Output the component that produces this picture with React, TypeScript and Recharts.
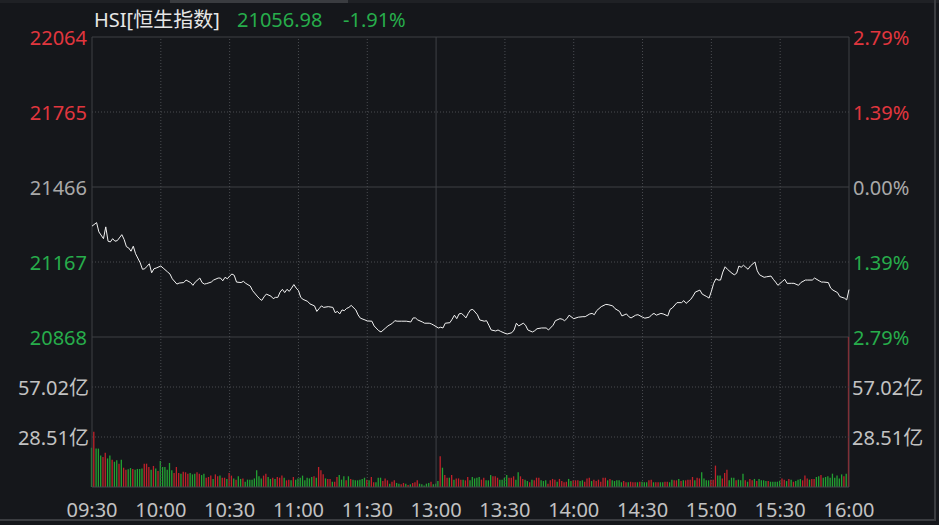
import React from "react";
import { LineChart, Line, BarChart, Bar, Cell, XAxis, YAxis, ReferenceLine } from "recharts";

// ── Data ────────────────────────────────────────────────────────────────

const PREV_CLOSE = 21466;
const LAST_PRICE = 21056.98;
const LAST_CHANGE = "-1.91%";

const priceTicks = [22064, 21765, 21466, 21167, 20868];
const volTicks = [28.51, 57.02];
const timeTicks = [0, 30, 60, 90, 120, 150, 180, 210, 240, 270, 300, 330];
const timeLabels = ["09:30", "10:00", "10:30", "11:00", "11:30", "13:00", "13:30", "14:00", "14:30", "15:00", "15:30", "16:00"];

// minutes since 09:30 (lunch break removed, 150 = 13:00)
const priceMin = [
  0, 2, 3, 5, 6, 7, 8, 9, 10, 11, 13, 14, 15, 16, 17, 18, 19, 21, 22, 23,
  24, 25, 26, 27, 28, 30, 31, 33, 34, 35, 37, 38, 40, 41, 43, 44, 45, 47, 48, 49,
  50, 52, 53, 55, 56, 57, 58, 59, 60, 61, 62, 63, 65, 66, 67, 69, 70, 72, 73, 74,
  75, 76, 78, 79, 80, 81, 82, 83, 84, 85, 86, 87, 88, 89, 90, 91, 92, 94, 95, 97,
  98, 99, 100, 101, 103, 105, 106, 107, 108, 109, 110, 111, 112, 113, 115, 116, 117, 119, 120, 122,
  123, 125, 126, 128, 129, 131, 132, 133, 135, 137, 139, 140, 141, 142, 144, 145, 147, 148, 149, 151,
  152, 153, 154, 156, 157, 158, 159, 160, 161, 162, 163, 164, 165, 166, 168, 169, 171, 172, 173, 174,
  176, 177, 178, 180, 181, 183, 184, 185, 186, 188, 189, 190, 192, 193, 194, 196, 198, 199, 201, 202,
  204, 205, 206, 207, 208, 210, 211, 212, 214, 215, 217, 218, 219, 220, 222, 224, 225, 227, 228, 230,
  231, 233, 234, 235, 237, 238, 240, 241, 243, 244, 245, 246, 248, 249, 251, 252, 253, 255, 257, 258,
  259, 261, 262, 263, 265, 266, 268, 269, 270, 271, 272, 273, 274, 275, 276, 277, 279, 280, 281, 282,
  283, 284, 285, 286, 287, 289, 290, 291, 293, 294, 296, 297, 298, 299, 301, 302, 303, 305, 306, 308,
  309, 311, 312, 314, 315, 317, 318, 319, 321, 322, 323, 325, 326, 328, 329, 330,
];
const priceVal = [
  21310, 21324, 21287, 21260, 21307, 21250, 21247, 21260, 21250, 21252, 21276, 21257, 21228, 21223, 21210, 21230, 21200, 21164, 21138, 21140,
  21150, 21160, 21124, 21140, 21143, 21151, 21143, 21127, 21119, 21100, 21079, 21083, 21085, 21095, 21085, 21074, 21087, 21103, 21085, 21079,
  21081, 21087, 21095, 21103, 21103, 21092, 21106, 21100, 21111, 21119, 21114, 21087, 21085, 21090, 21082, 21071, 21053, 21031, 21021, 21014,
  21028, 21039, 21031, 21021, 21026, 21026, 21047, 21058, 21045, 21058, 21050, 21063, 21077, 21063, 21053, 21026, 21018, 21010, 21000, 20992,
  20970, 20981, 20992, 20986, 20989, 20986, 20965, 20970, 20960, 20976, 20973, 20982, 20986, 20994, 20976, 20956, 20943, 20936, 20932, 20931,
  20912, 20893, 20888, 20904, 20912, 20923, 20933, 20931, 20931, 20931, 20928, 20944, 20944, 20936, 20928, 20923, 20923, 20920, 20915, 20904,
  20907, 20904, 20923, 20925, 20939, 20955, 20941, 20960, 20962, 20955, 20944, 20962, 20976, 20978, 20957, 20936, 20931, 20933, 20915, 20896,
  20892, 20896, 20891, 20883, 20880, 20885, 20896, 20923, 20912, 20923, 20915, 20896, 20888, 20893, 20901, 20904, 20904, 20896, 20915, 20933,
  20941, 20939, 20933, 20941, 20955, 20941, 20944, 20947, 20949, 20949, 20960, 20962, 20957, 20973, 20989, 20998, 20997, 20992, 20981, 20970,
  20952, 20960, 20949, 20944, 20955, 20957, 20947, 20943, 20947, 20957, 20962, 20955, 20962, 20960, 20952, 20978, 20984, 21005, 21005, 21013,
  21002, 21018, 21031, 21047, 21055, 21039, 21029, 21023, 21050, 21082, 21100, 21095, 21095, 21127, 21148, 21138, 21122, 21116, 21122, 21151,
  21146, 21154, 21146, 21138, 21151, 21167, 21132, 21116, 21106, 21108, 21111, 21098, 21087, 21074, 21090, 21098, 21082, 21082, 21082, 21074,
  21085, 21095, 21095, 21095, 21103, 21092, 21087, 21087, 21085, 21063, 21055, 21045, 21029, 21023, 21016, LAST_PRICE,
];

// turnover per minute, 亿 (morning 09:30-11:59, afternoon 13:00-16:00)
const volAM = [
  22.4, 31.5, 21.9, 21.9, 17.9, 17.1, 19.6, 16.3, 17.9, 15.6,
  14.4, 15.2, 13.3, 15.6, 11, 9.9, 10.1, 10.8, 10.3, 9.9,
  10.3, 10.3, 10.5, 13.3, 13.3, 11.4, 9.9, 12, 10.6, 9.1,
  14.8, 11.4, 11.4, 9.9, 13.7, 9.5, 8, 11.4, 8, 7.6,
  8.7, 8.4, 7.6, 8, 7.2, 7.6, 8.4, 7.6, 6.8, 7.6,
  5.3, 5.7, 6.5, 4.6, 7.2, 6.1, 6.5, 5.3, 5.3, 4.6,
  8, 6.5, 4.9, 4.2, 6.1, 4.6, 4.9, 3, 4.2, 4.2,
  4.2, 4.9, 9.5, 6.1, 4.9, 6.5, 7.6, 5.7, 4.6, 5.3,
  4.6, 5.7, 5.3, 6.5, 5.3, 3.8, 4.2, 3.8, 5.7, 4.2,
  4.9, 5.3, 6.5, 3.8, 5.3, 4.9, 5.7, 6.1, 5.3, 11.4,
  9.5, 7.2, 4.9, 4.6, 4.6, 3, 3, 5.7, 6.8, 4.2,
  6.1, 3.8, 6.1, 4.6, 4.2, 3.8, 3.8, 4.2, 4.6, 5.3,
  4.2, 3.8, 5.7, 2.7, 2.7, 5.3, 5.3, 3.4, 4.9, 3.8,
  1.9, 3, 3.8, 2.3, 1.9, 1.5, 2.3, 1.9, 1.1, 1.5,
  2.3, 2.7, 3.8, 1.9, 1.5, 0.8, 1.9, 2.3, 3, 1.5,
];
// r = up minute (red), g = down minute (green)
const dirAM =
  "grgggrrggr ggrgrrggrg gggrrrgrgr ggggggrrrg rrrgggrrgg rrrgrrgrrg rrgrggrggg gggggrrggr grrrgrrgrg gggggggrgr " +
  "rrgrrgrrgg grgrggggggr grrgggrrrg rrggrrgrgr rrgggggrg";

const volPM = [
  1.9, 3.4, 17.5, 11, 6.8, 5.3, 5.3, 6.8, 4.2, 4.9,
  4.9, 4.2, 4.2, 3.8, 5.7, 3.8, 5.7, 4.9, 5.3, 5.7,
  4.2, 5.3, 3.8, 3.8, 6.8, 6.1, 6.1, 5.3, 4.2, 4.2,
  5.3, 6.8, 5.3, 5.3, 6.1, 4.2, 8.4, 6.1, 4.6, 4.2,
  3.4, 2.7, 4.2, 3.8, 5.3, 5.3, 3.8, 3.4, 3.8, 1.9,
  3.8, 4.6, 4.2, 3, 4.6, 3.4, 2.7, 3, 4.6, 3.4,
  3.8, 3.8, 3.8, 3.4, 3.8, 3, 4.9, 5.3, 3.4,
  4.2, 3.4, 4.2, 3, 5.3, 5.3, 3.8, 4.6, 3.8, 3.4,
  3.8, 3.8, 2.7, 3.4, 2.7, 2.7, 3, 2.7, 2.7, 2.7,
  3, 3, 2.7, 2.7, 3.8, 4.2, 2.7, 2.7, 2.7, 2.7,
  2.7, 3, 3, 2.7, 4.2, 3.8, 3.8, 4.6, 3.4, 3.8,
  3.8, 4.2, 4.2, 5.7, 3.8, 5.3, 4.9, 8.4, 4.9, 3.8,
  3.8, 4.2, 4.2,
  12.2, 6.5, 6.5, 4.9, 8, 9.9, 3.8, 5.3, 5.3, 3.8,
  4.2, 3.8, 7.6, 3.8, 3, 4.6, 3.8, 4.6, 3.4, 4.6,
  3.8, 3.8, 3.4, 3.4, 3, 3, 3, 3, 3.4, 4.9,
  4.2, 3.4, 4.6, 4.2, 3, 3.4, 4.2, 4.6, 3.8, 6.5,
  4.9, 4.2, 4.6, 4.6, 5.7, 6.1, 6.8, 5.3, 5.7, 6.1,
  5.3, 7.6, 5.3, 6.5, 4.9, 7.2, 6.1, 7.6, 120,
];
const dirPM =
  "gg rgrrgrgrrr grrgggggrr gggrrrgggg rrrggrrggr grrrgggrrr rgrrrrggrr rggrrrg " +
  "rrrrrrgrgg gggrrgrrrg rgggrrgrrg grrggrrgrg rrrrgrrggg grr " +
  "rggrrrgggr gggrgrrgrg gggrgggggr rgrgrgggrr rgrrggrggg ggggggrgr";

// ── Styling ─────────────────────────────────────────────────────────────

const FONT = "'Noto Sans', 'Noto Sans CJK SC', sans-serif";
const BG = "#15171b";
const TXT_RED = "#e1363e";
const TXT_GREEN = "#27ad4b";
const TXT_GRAY = "#a9a9a9";
const TXT_LABEL = "#c2c2c2";
const BAR_RED = "#c0212a";
const BAR_GREEN = "#23a133";
const GRID_SOLID = "#3e4045";
const GRID_DOT = "#4a4c51";

const priceData = priceMin.map((m, i) => ({ m, p: priceVal[i] }));

const amDirs = dirAM.replace(/ /g, "");
const pmDirs = dirPM.replace(/ /g, "");
const volData = [
  ...volAM.map((v, i) => ({ m: i, v, up: amDirs[i] === "r" })),
  ...volPM.map((v, i) => ({ m: 150 + i, v, up: pmDirs[i] === "r" })),
];

const priceColor = (v: number) => (v > PREV_CLOSE ? TXT_RED : v < PREV_CLOSE ? TXT_GREEN : TXT_GRAY);
const pctText = (v: number) => `${Math.abs(((v - PREV_CLOSE) / PREV_CLOSE) * 100).toFixed(2)}%`;

function LeftPriceTick({ y, payload }: any) {
  return (
    <text x={87} y={y} textAnchor="end" dominantBaseline="central" fontSize={20} fontFamily={FONT} fill={priceColor(payload.value)}>
      {payload.value}
    </text>
  );
}

function RightPriceTick({ y, payload }: any) {
  return (
    <text x={853} y={y} textAnchor="start" dominantBaseline="central" fontSize={20} fontFamily={FONT} fill={priceColor(payload.value)}>
      {pctText(payload.value)}
    </text>
  );
}

function LeftVolTick({ y, payload }: any) {
  return (
    <text x={89} y={y} textAnchor="end" dominantBaseline="central" fontSize={20} fontFamily={FONT} fill={TXT_LABEL}>
      {payload.value.toFixed(2)}亿
    </text>
  );
}

function RightVolTick({ y, payload }: any) {
  return (
    <text x={852} y={y} textAnchor="start" dominantBaseline="central" fontSize={20} fontFamily={FONT} fill={TXT_LABEL}>
      {payload.value.toFixed(2)}亿
    </text>
  );
}

function TimeTick({ x, payload }: any) {
  const idx = timeTicks.indexOf(payload.value);
  return (
    <text x={x} y={172} textAnchor="middle" dominantBaseline="central" fontSize={20} fontFamily={FONT} fill={TXT_LABEL}>
      {timeLabels[idx]}
    </text>
  );
}

const isSolidX = (m: number) => m === 0 || m === 150 || m === 330;

export default function App() {
  return (
    <div style={{ position: "fixed", left: 0, top: 0, width: 939, height: 525, background: BG, overflow: "hidden" }}>
      {/* window frame */}
      <div style={{ position: "absolute", left: 0, top: 0, width: 939, height: 3, background: "#1f2125" }} />
      <div style={{ position: "absolute", left: 170, top: 0, width: 178, height: 3, background: "#3a3c40" }} />
      <div style={{ position: "absolute", left: 934, top: 0, width: 2, height: 521, background: "#3a3c40" }} />
      <div style={{ position: "absolute", left: 0, top: 519, width: 936, height: 2, background: "#3a3c40" }} />

      {/* header */}
      <svg width={939} height={36} style={{ position: "absolute", left: 0, top: 0 }}>
        <text x={94} y={27} fontSize={20} fontFamily={FONT} fill="#e6e6e6">HSI[恒生指数]</text>
        <text x={237} y={27} fontSize={20} fontFamily={FONT} fill={TXT_GREEN}>{LAST_PRICE.toFixed(2)}</text>
        <text x={343} y={27} fontSize={20} fontFamily={FONT} fill={TXT_GREEN}>{LAST_CHANGE}</text>
      </svg>

      {/* price */}
      <div style={{ position: "absolute", left: 0, top: 0 }}>
        <LineChart width={939} height={360} data={priceData} margin={{ top: 37, right: 0, bottom: 23, left: 0 }}>
          <XAxis dataKey="m" type="number" domain={[0, 330]} hide />
          <YAxis yAxisId="l" orientation="left" width={92} domain={[20868, 22064]} allowDataOverflow ticks={priceTicks}
            interval={0} axisLine={false} tickLine={false} tick={<LeftPriceTick />} />
          <YAxis yAxisId="r" orientation="right" width={90} domain={[20868, 22064]} allowDataOverflow ticks={priceTicks}
            interval={0} axisLine={false} tickLine={false} tick={<RightPriceTick />} />
          {priceTicks.map((t) => (
            <ReferenceLine key={`h${t}`} yAxisId="l" y={t} stroke={t === 21765 || t === 21167 ? GRID_DOT : GRID_SOLID}
              strokeDasharray={t === 21765 || t === 21167 ? "1 2" : undefined} />
          ))}
          {timeTicks.map((m) => (
            <ReferenceLine key={`v${m}`} yAxisId="l" x={m} stroke={isSolidX(m) ? GRID_SOLID : GRID_DOT}
              strokeDasharray={isSolidX(m) ? undefined : "1 2"} />
          ))}
          <Line yAxisId="l" type="linear" dataKey="p" stroke="#f2f2f2" strokeWidth={1} dot={false}
            activeDot={false} isAnimationActive={false} />
        </LineChart>
      </div>

      {/* volume */}
      <div style={{ position: "absolute", left: 0, top: 337 }}>
        <BarChart width={939} height={188} data={volData} margin={{ top: 0, right: 0, bottom: 8, left: 0 }}>
          <XAxis dataKey="m" type="number" domain={[0, 330]} ticks={timeTicks} interval={0} height={30}
            axisLine={{ stroke: "#45474c" }} tickLine={false} tick={<TimeTick />} />
          <YAxis yAxisId="l" orientation="left" width={92} domain={[0, 85.53]} allowDataOverflow ticks={volTicks}
            interval={0} axisLine={false} tickLine={false} tick={<LeftVolTick />} />
          <YAxis yAxisId="r" orientation="right" width={90} domain={[0, 85.53]} allowDataOverflow ticks={volTicks}
            interval={0} axisLine={false} tickLine={false} tick={<RightVolTick />} />
          {volTicks.map((t) => (
            <ReferenceLine key={`vh${t}`} yAxisId="l" y={t} stroke={GRID_DOT} strokeDasharray="1 2" />
          ))}
          {timeTicks.map((m) => (
            <ReferenceLine key={`vv${m}`} yAxisId="l" x={m} stroke={isSolidX(m) ? GRID_SOLID : GRID_DOT}
              strokeDasharray={isSolidX(m) ? undefined : "1 2"} />
          ))}
          <Bar yAxisId="l" dataKey="v" barSize={1.3} isAnimationActive={false}>
            {volData.map((d) => (
              <Cell key={d.m} fill={d.up ? BAR_RED : BAR_GREEN} />
            ))}
          </Bar>
        </BarChart>
      </div>
    </div>
  );
}
